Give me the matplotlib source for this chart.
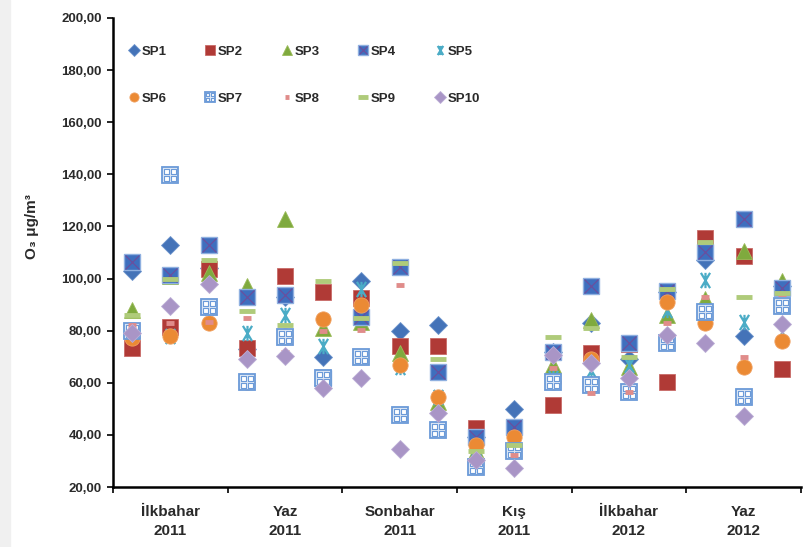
import matplotlib.pyplot as plt
from matplotlib.path import Path
from matplotlib.patches import Rectangle
from matplotlib.legend_handler import HandlerTuple

plt.rcParams['font.family'] = ['Liberation Sans', 'DejaVu Sans']

# seasons (3 samplings each)
seasons = ['İlkbahar\n2011', 'Yaz\n2011', 'Sonbahar\n2011', 'Kış\n2011', 'İlkbahar\n2012', 'Yaz\n2012']

sp1 = [103, 113, 104, 73, 93, 70, 99, 80, 82, 39, 50, 72, 83, 69, 95, 107, 78, 97]
sp2 = [73.5, 81.5, 103.5, 73.5, 100.8, 95, 92.7, 74, 74, 42.7, 43, 51.5, 71.5, 75, 60.4, 115.4, 108.5, 65.4]
sp3 = [88, 101, 102, 97, 122.7, 81, 83.5, 71.5, 52.7, 34, 38, 67, 84, 66, 86, 92, 110.4, 99]
sp4 = [106.5, 101.5, 112.7, 93, 93.5, 62, 85.4, 104.6, 64, 39, 43, 72, 97.3, 75.4, 95.4, 110, 123, 96.5]
sp5 = [80, 78, 89, 79, 86, 74, 96, 66, 54.6, 35, 37, 62, 65, 67, 88, 99.6, 83.5, 79.6]
sp6 = [77, 78, 83, 60.4, 78, 84.6, 90, 67, 54.6, 36, 39.3, 60.4, 69, 57, 91, 83, 66, 76]
sp7 = [80, 139.6, 89, 60.4, 77.7, 62, 70, 47.7, 42, 27.7, 34, 60.4, 59, 56.6, 75.4, 87, 54.6, 89.6]
sp8 = [82, 83, 83.5, 85, 72, 80, 80.4, 97.7, 48.5, 33, 32.3, 65.8, 56, 56.5, 83, 93, 70, 94]
sp9 = [86, 100, 107, 87.7, 82, 99, 85, 106, 69, 34, 36, 77.7, 81, 70, 96, 114, 93, 94.6]
sp10 = [79, 89.6, 98, 69, 70.4, 58, 62, 34.6, 48.5, 30.4, 27.3, 70.8, 67.7, 62, 78.5, 75.4, 47.3, 82.7]

x = list(range(len(sp1)))

# star marker: x with a vertical bar
star = Path([(-0.6, -1), (0.6, 1), (-0.6, 1), (0.6, -1), (0, -1), (0, 1)],
            [Path.MOVETO, Path.LINETO, Path.MOVETO, Path.LINETO, Path.MOVETO, Path.LINETO])
# 2x2 grid of small squares for the patterned marker
cells = []
codes = []
for cx in (-0.45, 0.45):
    for cy in (-0.45, 0.45):
        s = 0.3
        cells += [(cx - s, cy - s), (cx + s, cy - s), (cx + s, cy + s), (cx - s, cy + s), (cx - s, cy - s)]
        codes += [Path.MOVETO, Path.LINETO, Path.LINETO, Path.LINETO, Path.CLOSEPOLY]
grid = Path(cells, codes)

fig = plt.figure(figsize=(8.07, 5.47), dpi=100)
fig.patches.append(Rectangle((0, 0), 10 / 807, 1, transform=fig.transFigure,
                             color='#f0f0f0', zorder=-1))
ax = fig.add_axes([113 / 807, 1 - 487 / 547, 688 / 807, 469 / 547])

kw = dict(linestyle='none')
h1, = ax.plot(x, sp1, marker='D', ms=9.5, color='#4473B8', mec='#6d94cc', mew=0.6, **kw)
h2, = ax.plot(x, sp2, marker='s', ms=11, color='#B03A36', mec='#c86a67', mew=0.6, **kw)
h3, = ax.plot(x, sp3, marker='^', ms=12, color='#7FAA3E', mec='#9bbb59', mew=0.6, **kw)
h4a, = ax.plot(x, sp4, marker='s', ms=12, color='#3E6FBE', mec='#8fb0e0', mew=1.0, **kw)
h4b, = ax.plot(x, sp4, marker='x', ms=10, color='#6a4f9e', mew=0.9, **kw)
h5, = ax.plot(x, sp5, marker=star, ms=11, color='#4BACC6', mew=1.6, **kw)
h6, = ax.plot(x, sp6, marker='o', ms=11, color='#EB8A34', mec='#f0a060', mew=0.6, **kw)
h7a, = ax.plot(x, sp7, marker='s', ms=12, mfc='#dce7f5', mec='#6b9ad8', mew=1.3, **kw)
h7b, = ax.plot(x, sp7, marker=grid, ms=9, mfc='white', mec='#6b9ad8', mew=0.8, **kw)
h8, = ax.plot(x, sp8, marker='_', ms=6, color='#E08C8A', mew=3.5, **kw)
h9, = ax.plot(x, sp9, marker='_', ms=11, color='#AFCB7A', mew=3.5, **kw)
h10, = ax.plot(x, sp10, marker='D', ms=9.5, color='#A995C6', mec='#bcaed6', mew=0.6, **kw)

ax.set_xlim(-0.5, 17.5)
ax.set_ylim(20, 200)
ax.set_yticks(range(20, 201, 20))
ax.set_yticklabels([f'{v:.2f}'.replace('.', ',') for v in range(20, 201, 20)],
                   fontsize=9.5, fontweight='bold', color='#2a2a2a')
ax.set_xticks([i * 3 - 0.5 for i in range(7)])
ax.set_xticklabels([])
ax.set_xticks([i * 3 + 1 for i in range(6)], minor=True)
ax.set_xticklabels(seasons, minor=True, fontsize=11, fontweight='bold',
                   color='#2a2a2a', linespacing=1.45)
ax.tick_params(axis='x', which='minor', length=0, pad=13)
ax.tick_params(axis='both', which='major', length=4, width=1.2, color='black')
ax.tick_params(axis='y', pad=4)
for s in ('top', 'right'):
    ax.spines[s].set_visible(False)
for s in ('left', 'bottom'):
    ax.spines[s].set_linewidth(1.8)

ax.set_ylabel('O₃ μg/m³', fontsize=11, fontweight='bold', color='#2a2a2a')
ax.yaxis.set_label_coords(-0.107, 0.555)

labels = ['SP1', 'SP2', 'SP3', 'SP4', 'SP5', 'SP6', 'SP7', 'SP8', 'SP9', 'SP10']
handles = [h1, h2, h3, (h4a, h4b), h5, h6, (h7a, h7b), h8, h9, h10]
# column-major ordering so the rows read SP1..SP5 and SP6..SP10
order = [0, 5, 1, 6, 2, 7, 3, 8, 4, 9]
leg = ax.legend([handles[i] for i in order], [labels[i] for i in order], ncol=5,
                loc='upper left', bbox_to_anchor=(0.005, 0.966), frameon=False,
                prop={'size': 9.5, 'weight': 'bold'}, markerscale=0.6,
                handlelength=0.8, handletextpad=0.2, columnspacing=2.9,
                labelspacing=2.6, handler_map={tuple: HandlerTuple(ndivide=1)})
for t in leg.get_texts():
    t.set_color('#2a2a2a')

fig.savefig('out.png', dpi=100)
